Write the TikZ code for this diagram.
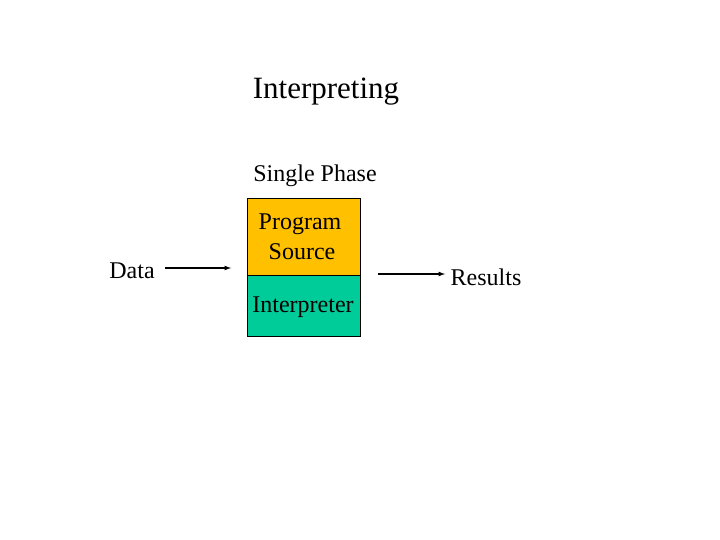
\documentclass[tikz,border=0pt]{standalone}
\usepackage{fontspec}
\setmainfont{Liberation Serif}
\begin{document}
\begin{tikzpicture}[x=1pt,y=-1pt,
  lbl/.style={inner sep=0pt,font=\fontsize{24}{28}\selectfont},
  arr/.style={-latex,line width=1.2pt}]
\useasboundingbox (0,0) rectangle (720,540);
\definecolor{gold}{RGB}{255,192,0}
\definecolor{teal}{RGB}{0,204,153}
\node[lbl,font=\fontsize{31}{36}\selectfont] (title) at (326,92) {Interpreting};
\node[lbl] (phase) at (315,176) {Single Phase};
\node[draw,fill=gold,minimum width=113,minimum height=77,inner sep=0pt,anchor=north west] (src) at (247,198) {};
\node[draw,fill=teal,minimum width=113,minimum height=61,inner sep=0pt,anchor=north west] (interp) at (247,275) {};
\node[lbl] (p1) at (300,224) {Program};
\node[lbl] (p2) at (302,252) {Source};
\node[lbl] (it) at (303,307) {Interpreter};
\node[lbl] (data) at (132,271) {Data};
\node[lbl] (res) at (486,277) {Results};
\coordinate (a1) at (165,268); \coordinate (a2) at (231,268);
\coordinate (b1) at (378,274); \coordinate (b2) at (445,274);
\draw[arr] (a1) -- (a2);
\draw[arr] (b1) -- (b2);
\end{tikzpicture}
\end{document}
